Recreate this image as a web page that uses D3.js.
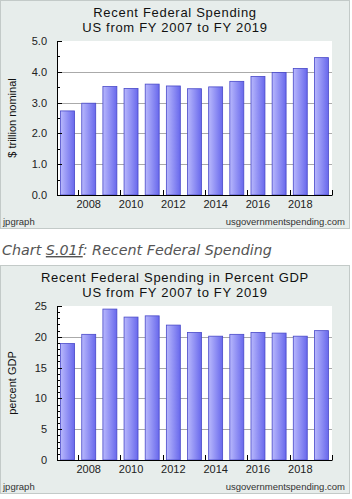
<!DOCTYPE html>
<html>
<head>
<meta charset="utf-8">
<script src="https://cdn.jsdelivr.net/npm/d3@7"></script>
<style>
  body { margin: 0; background: #fff; }
  svg text { font-family: "Liberation Sans", Arial, sans-serif; }
</style>
</head>
<body>
<div id="charts"></div>
<script>
// data
var years = [2007, 2008, 2009, 2010, 2011, 2012, 2013, 2014, 2015, 2016, 2017, 2018, 2019]
var spending = [2.73, 2.98, 3.52, 3.46, 3.60, 3.54, 3.45, 3.51, 3.69, 3.85, 3.98, 4.11, 4.46]
var spendingGdp = [18.9, 20.4, 24.5, 23.2, 23.4, 21.9, 20.7, 20.1, 20.4, 20.7, 20.6, 20.1, 21.0]
var yearLabels = [2008, 2010, 2012, 2014, 2016, 2018]
var ticks1 = [0, 1, 2, 3, 4, 5]
var ticks2 = [0, 5, 10, 15, 20, 25]

var width = 352, height = 499
var margin = {top: 41, right: 20, bottom: 34, left: 57}
var boxW = 350, boxH = 229

var svg = d3.select("#charts")
  .append("svg")
  .attr("width", width)
  .attr("height", height)

var grad = svg.append("defs").append("linearGradient")
  .attr("id", "barGrad")
  .attr("x1", "0").attr("x2", "1").attr("y1", "0").attr("y2", "0")
grad.append("stop").attr("offset", "0%").attr("stop-color", "#b8b8fc")
grad.append("stop").attr("offset", "100%").attr("stop-color", "#6868ec")

function drawChart(top, title1, title2, yTitle, values, yMax, majors, minorStep, fmt) {
  var g = svg.append("g").attr("transform", "translate(0," + top + ")")

  g.append("rect")
    .attr("x", 0.5).attr("y", 0.5)
    .attr("width", boxW - 1).attr("height", boxH - 1)
    .style("fill", "#e7edeb")
    .style("stroke", "#c3cac8")

  g.append("text").attr("x", 175).attr("y", 17)
    .attr("text-anchor", "middle").style("font-size", "13px").style("fill", "#111")
    .style("letter-spacing", "0.7px")
    .text(title1)
  g.append("text").attr("x", 175).attr("y", 32)
    .attr("text-anchor", "middle").style("font-size", "13px").style("fill", "#111")
    .style("letter-spacing", "0.7px")
    .text(title2)

  var plotW = 332 - margin.left
  var plotH = boxH - margin.top - margin.bottom

  var plot = g.append("g").attr("transform", "translate(" + margin.left + "," + margin.top + ")")

  var x = d3.scaleBand()
    .domain(years)
    .range([0, plotW])
    .paddingInner(0.34)
    .paddingOuter(0.17)

  var y = d3.scaleLinear()
    .domain([0, yMax])
    .range([plotH, 0])

  plot.append("rect")
    .attr("width", plotW).attr("height", plotH)
    .style("fill", "#fff")

  // grid
  plot.selectAll(".grid")
    .data(majors.slice(1, -1))
    .enter().append("line")
    .attr("x1", 0).attr("x2", plotW)
    .attr("y1", function(d) { return Math.round(y(d)) + 0.5 })
    .attr("y2", function(d) { return Math.round(y(d)) + 0.5 })
    .style("stroke", "#aaaaaa")

  plot.selectAll(".bar")
    .data(values)
    .enter().append("rect")
    .attr("class", "bar")
    .attr("x", function(d, i) { return x(years[i]) })
    .attr("width", x.bandwidth())
    .attr("y", function(d) { return y(d) })
    .attr("height", function(d) { return plotH - y(d) })
    .style("fill", "url(#barGrad)")
    .style("stroke", "#4848c8")
    .style("stroke-width", 0.8)

  // y axis
  var minors = d3.range(0, yMax + 1e-9, minorStep)
  var yAxis = plot.append("g")
    .call(d3.axisLeft(y).tickValues(majors).tickFormat(fmt).tickSize(0).tickPadding(10))
  yAxis.select(".domain").remove()
  yAxis.selectAll("text").style("font-size", "11px").style("fill", "#222")
  plot.selectAll(".ytick")
    .data(minors)
    .enter().append("line")
    .attr("x1", 0)
    .attr("x2", function(d) { return majors.indexOf(+d.toFixed(3)) >= 0 ? 5 : 3 })
    .attr("y1", function(d) { return Math.round(y(d)) + 0.5 })
    .attr("y2", function(d) { return Math.round(y(d)) + 0.5 })
    .style("stroke", "#000")
  plot.append("line")
    .attr("x1", 0.5).attr("x2", 0.5).attr("y1", 0).attr("y2", plotH)
    .style("stroke", "#000")

  // x axis
  var xAxis = plot.append("g")
    .attr("transform", "translate(0," + plotH + ")")
    .call(d3.axisBottom(x).tickValues(yearLabels).tickSize(0).tickPadding(5))
  xAxis.select(".domain").remove()
  xAxis.selectAll("text").style("font-size", "11px").style("fill", "#222")
  plot.selectAll(".xtick")
    .data(yearLabels.concat([2020]))
    .enter().append("line")
    .attr("x1", function(d) { return Math.round(x.step() * (d - 2007)) + 0.5 })
    .attr("x2", function(d) { return Math.round(x.step() * (d - 2007)) + 0.5 })
    .attr("y1", plotH).attr("y2", plotH - 5)
    .style("stroke", "#000")
  plot.append("line")
    .attr("x1", 0).attr("x2", plotW + 0.5)
    .attr("y1", plotH + 0.5).attr("y2", plotH + 0.5)
    .style("stroke", "#000")

  g.append("text")
    .attr("transform", "translate(16," + (margin.top + plotH / 2) + ") rotate(-90)")
    .attr("text-anchor", "middle")
    .style("font-size", "11px").style("fill", "#111")
    .text(yTitle)

  g.append("text").attr("x", 3).attr("y", 225)
    .style("font-size", "9.5px").style("fill", "#333")
    .text("jpgraph")
  g.append("text").attr("x", 345).attr("y", 225)
    .attr("text-anchor", "end")
    .style("font-size", "9.5px").style("fill", "#333")
    .text("usgovernmentspending.com")
}

drawChart(0, "Recent Federal Spending", "US from FY 2007 to FY 2019", "$ trillion nominal",
  spending, 5, ticks1, 0.5, d3.format(".1f"))

var cap = svg.append("text").attr("x", 2).attr("y", 255)
  .style("font-family", "'DejaVu Sans', Verdana, sans-serif")
  .style("font-style", "italic").style("font-size", "14.3px").style("fill", "#555")
cap.append("tspan").text("Chart ")
cap.append("tspan").style("text-decoration", "underline").text("S.01f")
cap.append("tspan").text(": Recent Federal Spending")

drawChart(265, "Recent Federal Spending in Percent GDP", "US from FY 2007 to FY 2019", "percent GDP",
  spendingGdp, 25, ticks2, 1, d3.format("d"))
</script>
</body>
</html>
